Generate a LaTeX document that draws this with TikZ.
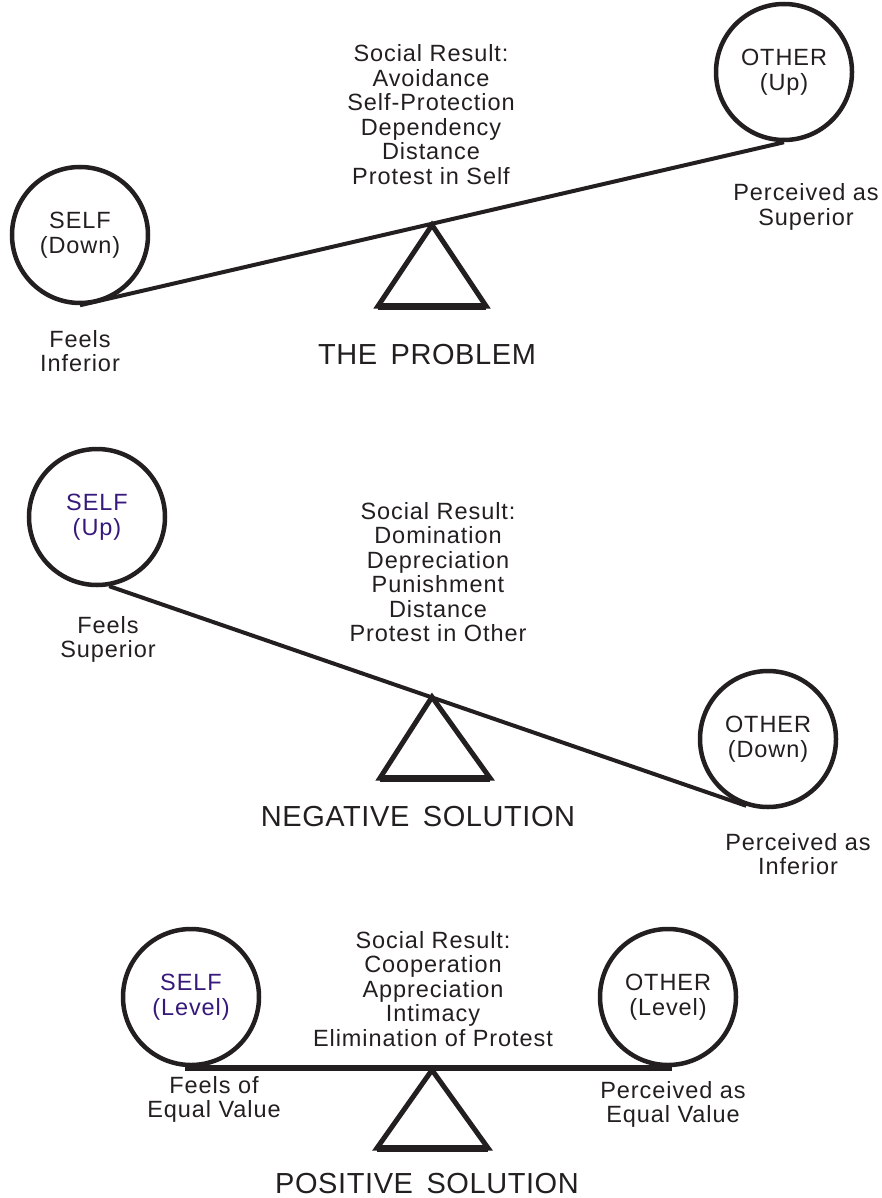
\documentclass[tikz,border=0pt]{standalone}
\usepackage{fontspec}
\newfontfamily\lblfamily{Liberation Sans}[LetterSpace=4]
\newfontfamily\ttlfamily{Liberation Sans}[LetterSpace=2]
\newcommand\diaglbl{\lblfamily\fontsize{23.5}{24.5}\selectfont}
\newcommand\diagttl{\ttlfamily\fontsize{29}{32}\selectfont}
\definecolor{ink}{HTML}{231F20}
\definecolor{selfink}{HTML}{36197A}
\begin{document}
\begin{tikzpicture}[x=1pt,y=-1pt,
  ball/.style={circle, draw=ink, line width=4.5pt, minimum size=136pt, inner sep=0pt,
               align=center, font=\diaglbl, text=ink},
  selfball/.style={ball, text=selfink},
  % multi-line labels are placed by the baseline of their last line
  lbl/.style={font=\diaglbl, text=ink, align=center, inner sep=0pt, anchor=base},
  ttl/.style={font=\diagttl, text=ink, inner sep=0pt, anchor=base},
  beam/.style={draw=ink, line width=4pt},
  flatbeam/.style={draw=ink, line width=6.5pt},
  fulcrum/.style={draw=ink, line width=5pt, line join=miter},
  fulcrumbase/.style={draw=ink, line width=7pt}
]
\useasboundingbox (0,0) rectangle (881,1198);

% ---------- The problem: self down, other up ----------
\node[ball] (self1) at (80,235) {SELF\\(Down)};
\node[ball] (other1) at (784,72) {OTHER\\(Up)};
\draw[beam] (self1.south) -- (other1.south);
\coordinate (apex1) at (432,225);
\coordinate (bl1) at (378,306);
\coordinate (br1) at (486,306);
\draw[fulcrum] (apex1) -- (bl1) -- (br1) -- cycle;
\draw[fulcrumbase] (bl1) -- (br1);
\node[lbl] (res1) at (431,184.5) {Social Result:\\Avoidance\\Self-Protection\\Dependency\\Distance\\Protest in Self};
\node[lbl] (feel1) at (80,371.5) {Feels\\Inferior};
\node[lbl] (perc1) at (806,225.5) {Perceived as\\Superior};
\node[ttl] (title1) at (427,364) {THE\, PROBLEM};

% ---------- Negative solution: self up, other down ----------
\node[selfball] (self2) at (97,517) {SELF\\(Up)};
\node[ball] (other2) at (768,739) {OTHER\\(Down)};
\draw[beam] (self2.-80) -- (other2.-108);
\coordinate (apex2) at (432,697);
\coordinate (bl2) at (380,778);
\coordinate (br2) at (490,778);
\draw[fulcrum] (apex2) -- (bl2) -- (br2) -- cycle;
\draw[fulcrumbase] (bl2) -- (br2);
\node[lbl] (res2) at (438,641.5) {Social Result:\\Domination\\Depreciation\\Punishment\\Distance\\Protest in Other};
\node[lbl] (feel2) at (108,657.5) {Feels\\Superior};
\node[lbl] (perc2) at (798,874.5) {Perceived as\\Inferior};
\node[ttl] (title2) at (418,826) {NEGATIVE\, SOLUTION};

% ---------- Positive solution: both level ----------
\node[selfball] (self3) at (191,997) {SELF\\(Level)};
\node[ball] (other3) at (668,997) {OTHER\\(Level)};
\coordinate (bml) at (185,1068);
\coordinate (bmr) at (672,1068);
\draw[flatbeam] (bml) -- (bmr);
\coordinate (apex3) at (432,1070);
\coordinate (bl3) at (377,1148);
\coordinate (br3) at (488,1148);
\draw[fulcrum] (apex3) -- (bl3) -- (br3) -- cycle;
\draw[fulcrumbase] (bl3) -- (br3);
\node[lbl] (res3) at (433,1046) {Social Result:\\Cooperation\\Appreciation\\Intimacy\\Elimination of Protest};
\node[lbl] (feel3) at (214,1117.5) {Feels of\\Equal Value};
\node[lbl] (perc3) at (673,1122.5) {Perceived as\\Equal Value};
\node[ttl] (title3) at (427,1193) {POSITIVE\, SOLUTION};
\end{tikzpicture}
\end{document}
